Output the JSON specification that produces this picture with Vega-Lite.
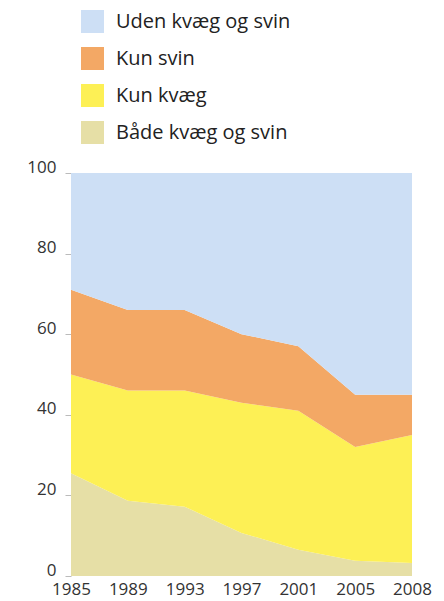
{
  "$schema": "https://vega.github.io/schema/vega-lite/v6.json",
  "width": 341,
  "height": 403,
  "autosize": {"type": "none"},
  "padding": {"left": 71, "top": 173, "right": 32, "bottom": 25},
  "background": "white",
  "config": {"view": {"stroke": null}, "font": "Open Sans"},
  "data": {"values": [
    {"year": "1985", "group": "Både kvæg og svin", "o": 1, "value": 25.5},
    {"year": "1989", "group": "Både kvæg og svin", "o": 1, "value": 18.7},
    {"year": "1993", "group": "Både kvæg og svin", "o": 1, "value": 17.2},
    {"year": "1997", "group": "Både kvæg og svin", "o": 1, "value": 10.7},
    {"year": "2001", "group": "Både kvæg og svin", "o": 1, "value": 6.5},
    {"year": "2005", "group": "Både kvæg og svin", "o": 1, "value": 3.8},
    {"year": "2008", "group": "Både kvæg og svin", "o": 1, "value": 3.2},
    {"year": "1985", "group": "Kun kvæg", "o": 2, "value": 24.5},
    {"year": "1989", "group": "Kun kvæg", "o": 2, "value": 27.3},
    {"year": "1993", "group": "Kun kvæg", "o": 2, "value": 28.8},
    {"year": "1997", "group": "Kun kvæg", "o": 2, "value": 32.3},
    {"year": "2001", "group": "Kun kvæg", "o": 2, "value": 34.5},
    {"year": "2005", "group": "Kun kvæg", "o": 2, "value": 28.2},
    {"year": "2008", "group": "Kun kvæg", "o": 2, "value": 31.8},
    {"year": "1985", "group": "Kun svin", "o": 3, "value": 21},
    {"year": "1989", "group": "Kun svin", "o": 3, "value": 20},
    {"year": "1993", "group": "Kun svin", "o": 3, "value": 20},
    {"year": "1997", "group": "Kun svin", "o": 3, "value": 17},
    {"year": "2001", "group": "Kun svin", "o": 3, "value": 16},
    {"year": "2005", "group": "Kun svin", "o": 3, "value": 13},
    {"year": "2008", "group": "Kun svin", "o": 3, "value": 10},
    {"year": "1985", "group": "Uden kvæg og svin", "o": 4, "value": 29},
    {"year": "1989", "group": "Uden kvæg og svin", "o": 4, "value": 34},
    {"year": "1993", "group": "Uden kvæg og svin", "o": 4, "value": 34},
    {"year": "1997", "group": "Uden kvæg og svin", "o": 4, "value": 40},
    {"year": "2001", "group": "Uden kvæg og svin", "o": 4, "value": 43},
    {"year": "2005", "group": "Uden kvæg og svin", "o": 4, "value": 55},
    {"year": "2008", "group": "Uden kvæg og svin", "o": 4, "value": 55}
  ]},
  "mark": {"type": "area", "opacity": 1},
  "encoding": {
    "x": {
      "field": "year", "type": "ordinal",
      "scale": {"type": "point", "padding": 0},
      "axis": {"title": null, "labelAngle": 0, "domain": false, "ticks": false, "labelPadding": 5, "labelFontSize": 17, "labelColor": "#333", "labelFont": "Open Sans"}
    },
    "y": {
      "field": "value", "type": "quantitative", "stack": "zero",
      "scale": {"domain": [0, 100], "nice": false},
      "axis": {"title": null, "values": [0, 20, 40, 60, 80, 100], "domain": false, "tickSize": 6, "tickColor": "#bbb", "labelPadding": 9, "labelBaseline": "alphabetic", "labelOffset": -1, "labelFontSize": 17, "labelColor": "#333", "labelFont": "Open Sans", "grid": false}
    },
    "color": {
      "field": "group", "type": "nominal",
      "scale": {
        "domain": ["Uden kvæg og svin", "Kun svin", "Kun kvæg", "Både kvæg og svin"],
        "range": ["#cddff5", "#f3a865", "#fdf055", "#e6dfa6"]
      },
      "legend": {
        "title": null, "orient": "none", "legendX": 10, "legendY": -163,
        "symbolType": "square", "symbolSize": 529, "symbolStrokeWidth": 0,
        "labelFontSize": 20, "labelColor": "#222", "labelFont": "Open Sans", "labelLimit": 0,
        "rowPadding": 14, "labelOffset": 12
      }
    },
    "order": {"field": "o", "type": "quantitative"}
  }
}
